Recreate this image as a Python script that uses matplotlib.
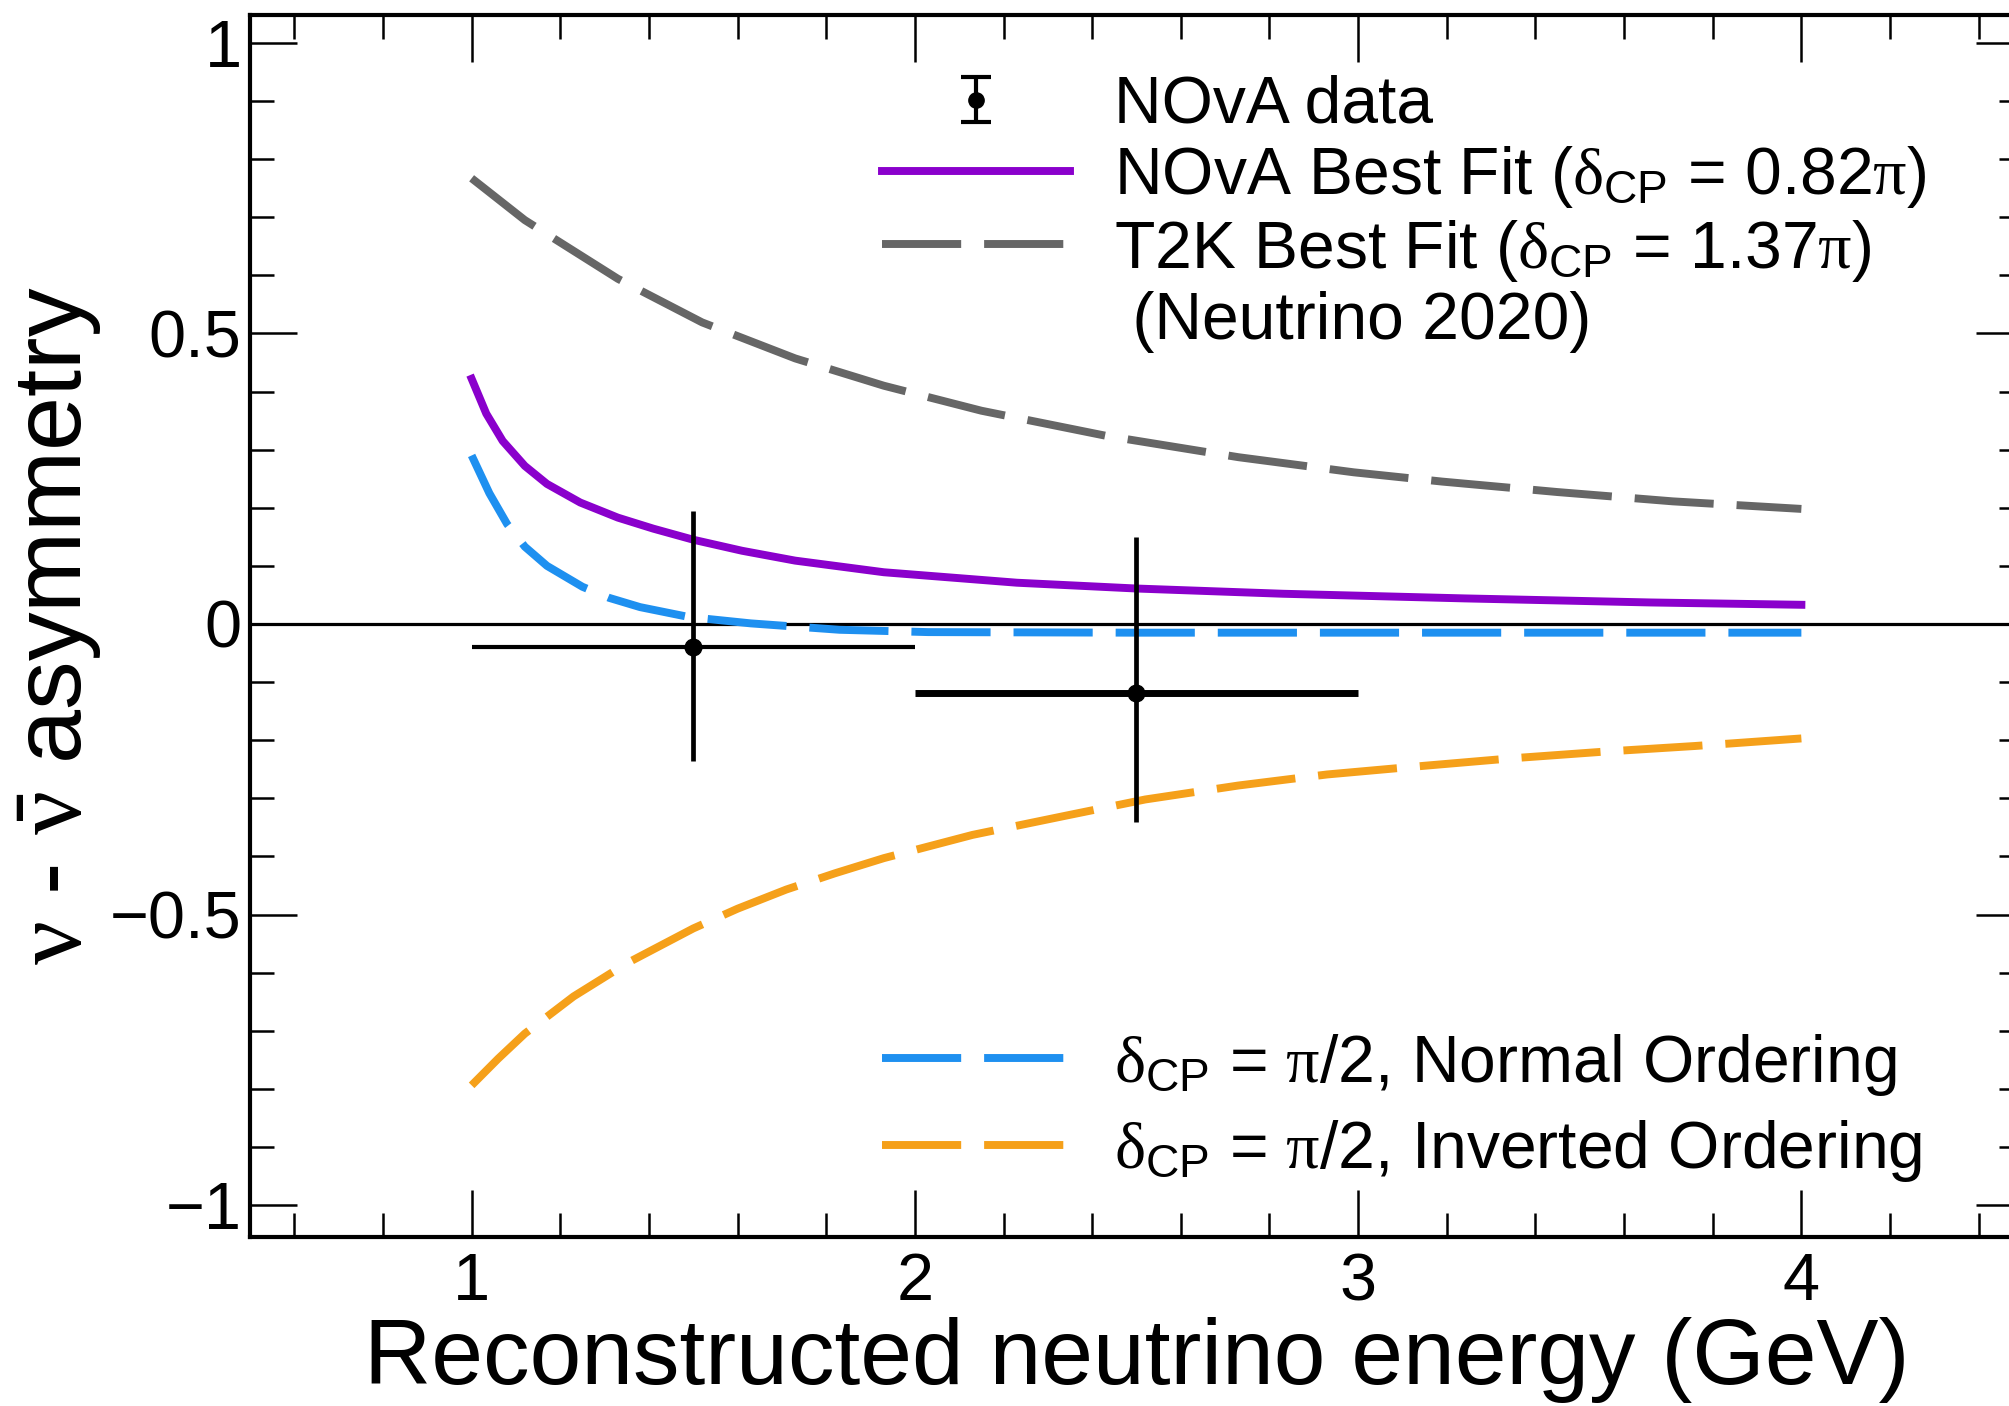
import numpy as np
import matplotlib
matplotlib.use("Agg")
import matplotlib.pyplot as plt
from matplotlib.lines import Line2D
from matplotlib.legend_handler import HandlerErrorbar
from matplotlib.ticker import MultipleLocator

plt.rcParams['font.family'] = ['Liberation Sans', 'DejaVu Sans']
plt.rcParams['mathtext.fontset'] = 'custom'
plt.rcParams['mathtext.rm'] = 'Liberation Sans'
plt.rcParams['mathtext.it'] = 'Liberation Serif'
plt.rcParams['mathtext.bf'] = 'Liberation Sans:bold'

# values
e_nova = [1.0, 1.033, 1.07, 1.12, 1.17, 1.245, 1.33, 1.41, 1.5, 1.61, 1.73, 1.93,
          2.23, 2.5, 2.83, 3.24, 3.66, 4.0]
a_nova = [0.422, 0.362, 0.315, 0.272, 0.241, 0.209, 0.183, 0.164, 0.145, 0.126, 0.109, 0.089,
          0.071, 0.061, 0.052, 0.044, 0.037, 0.033]

e_t2k = [1.0, 1.12, 1.33, 1.52, 1.73, 1.93, 2.15, 2.43, 2.73, 2.99, 3.19, 3.45, 3.71, 4.0]
a_t2k = [0.767, 0.695, 0.594, 0.519, 0.457, 0.410, 0.367, 0.324, 0.287, 0.261, 0.245, 0.227, 0.211, 0.198]

e_no = [1.0, 1.04, 1.08, 1.12, 1.17, 1.25, 1.31, 1.38, 1.49, 1.63, 1.83, 2.03, 2.5, 3.0, 3.5, 4.0]
a_no = [0.29, 0.225, 0.172, 0.133, 0.100, 0.064, 0.045, 0.029, 0.012, 0.001, -0.010, -0.014,
        -0.015, -0.015, -0.015, -0.015]

e_io = [1.0, 1.06, 1.12, 1.23, 1.35, 1.5, 1.6, 1.71, 1.82, 1.93, 2.13, 2.34, 2.52, 2.73,
        2.93, 3.15, 3.35, 3.55, 3.76, 4.0]
a_io = [-0.794, -0.748, -0.705, -0.641, -0.584, -0.524, -0.490, -0.457, -0.429, -0.403, -0.363,
        -0.330, -0.302, -0.278, -0.259, -0.244, -0.231, -0.220, -0.210, -0.197]

e_data = [1.5, 2.5]
a_data = [-0.04, -0.118]
e_lo = [1.0, 2.0]
e_hi = [2.0, 3.0]
a_err_lo = [0.195, 0.222]
a_err_hi = [0.235, 0.267]

fig = plt.figure(figsize=(20.09, 14.06), dpi=100)
ax = fig.add_axes([250/2009, (1406-1237)/1406, (2023-250)/2009, (1237-15)/1406])

lw = 5.7
dash = (10, 2.9)
ax.axhline(0, color='k', lw=2.3, zorder=1)
l_nova, = ax.plot(e_nova, a_nova, color='#8a00cc', lw=lw,
                  label=r'NOvA Best Fit ($\delta_{\rm CP}$ = 0.82$\pi$)')
l_t2k, = ax.plot(e_t2k, a_t2k, color='#666666', lw=lw, dashes=dash,
                 label=r'T2K Best Fit ($\delta_{\rm CP}$ = 1.37$\pi$)')
l_no, = ax.plot(e_no, a_no, color='#1e90f0', lw=lw, dashes=dash,
                label=r'$\delta_{\rm CP}$ = $\pi$/2, Normal Ordering')
l_io, = ax.plot(e_io, a_io, color='#f5a01a', lw=lw, dashes=dash,
                label=r'$\delta_{\rm CP}$ = $\pi$/2, Inverted Ordering')

ax.hlines(a_data, e_lo, e_hi, colors='k', linewidths=[3.0, 5.0], zorder=4)
ax.errorbar(e_data, a_data, yerr=[a_err_lo, a_err_hi], fmt='o', color='k',
            ms=12, elinewidth=3.4, capsize=0, zorder=5)
# proxy for the legend symbol (with caps)
proxy = ax.errorbar([np.nan], [np.nan], yerr=[0.1], fmt='o', color='k',
                    ms=11, elinewidth=3, capsize=11, capthick=3)
blank = Line2D([], [], linestyle='none', marker=None)

ax.set_xlim(0.5, 4.5)
ax.set_ylim(-1.055, 1.048)
ax.xaxis.set_major_locator(MultipleLocator(1))
ax.xaxis.set_minor_locator(MultipleLocator(0.2))
ax.yaxis.set_major_locator(MultipleLocator(0.5))
ax.yaxis.set_minor_locator(MultipleLocator(0.1))
ax.set_yticks([-1, -0.5, 0, 0.5, 1])
ax.set_yticklabels(['\u22121', '\u22120.5', '0', '0.5', '1'])
ax.tick_params(which='both', direction='in', top=True, right=True, width=1.8,
               labelsize=48, pad=6)
ax.tick_params(which='major', length=34)
ax.tick_params(which='minor', length=17)
ax.tick_params(axis='x', pad=11)
for s in ax.spines.values():
    s.set_linewidth(3)

ax.set_xlabel('Reconstructed neutrino energy (GeV)', fontsize=67, labelpad=2)
ax.set_ylabel(r'$\nu$ - $\bar{\nu}$ asymmetry', fontsize=70, labelpad=4)

leg1 = ax.legend([proxy, l_nova, l_t2k, blank],
                 ['NOvA data', l_nova.get_label(), l_t2k.get_label(), ' (Neutrino 2020)'],
                 loc='upper left', bbox_to_anchor=(849/2009, 1-42/1406),
                 bbox_transform=fig.transFigure, frameon=False, fontsize=47.5,
                 borderpad=0, handlelength=2.85, handletextpad=0.66, labelspacing=0.11,
                 handler_map={proxy: HandlerErrorbar(yerr_size=0.34)})
ax.add_artist(leg1)
ax.legend([l_no, l_io], [l_no.get_label(), l_io.get_label()],
          loc='lower left', bbox_to_anchor=(849/2009, 1-1217/1406),
          bbox_transform=fig.transFigure, frameon=False, fontsize=47.5,
          borderpad=0, handlelength=2.85, handletextpad=0.66, labelspacing=0.31)

fig.savefig('out.png', dpi=100)
